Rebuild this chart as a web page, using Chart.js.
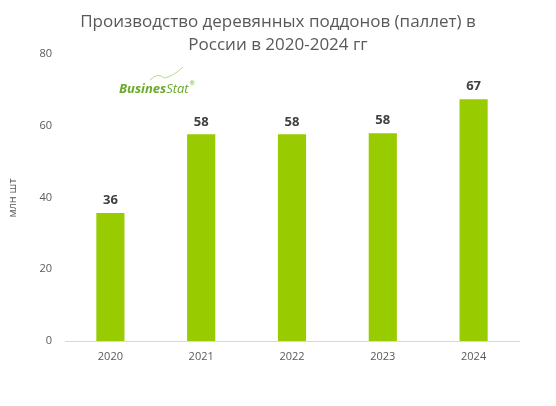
<!DOCTYPE html>
<html>
<head>
<meta charset="utf-8">
<script src="https://cdn.jsdelivr.net/npm/chart.js@4"></script>
<style>
  html, body { margin: 0; padding: 0; background: #fff; }
  #wrap { width: 556px; height: 406px; }
</style>
</head>
<body>
<div id="wrap"><canvas id="chart"></canvas></div>
<script>
const years = ['2020', '2021', '2022', '2023', '2024'];
const production = [35.7, 57.6, 57.6, 57.9, 67.4];
const yTicks = [0, 20, 40, 60, 80];

const titleLines = ['Производство деревянных поддонов (паллет) в', 'России в 2020-2024 гг'];
const yAxisLabel = 'млн шт';

// title, axis label, logo and value labels
const decorPlugin = {
    id: 'decor',
    afterDatasetsDraw(chart) {
        const ctx = chart.ctx;
        ctx.save();
        ctx.fillStyle = '#595959';
        ctx.font = '17px "Open Sans", sans-serif';
        ctx.textAlign = 'center';
        ctx.textBaseline = 'middle';
        ctx.fillText(titleLines[0], 278, 22);
        ctx.fillText(titleLines[1], 278, 45);

        ctx.font = '11px "Open Sans", sans-serif';
        ctx.translate(13, 198);
        ctx.rotate(-Math.PI / 2);
        ctx.fillText(yAxisLabel, 0, 0);
        ctx.restore();

        // value labels
        ctx.save();
        ctx.fillStyle = '#404040';
        ctx.font = 'bold 13px "Open Sans", sans-serif';
        ctx.textAlign = 'center';
        ctx.textBaseline = 'bottom';
        chart.getDatasetMeta(0).data.forEach((bar, i) => {
            ctx.fillText(Math.round(production[i]), bar.x, bar.y - 6);
        });
        ctx.restore();

        // logo
        ctx.save();
        ctx.strokeStyle = '#b5d98a';
        ctx.lineWidth = 1;
        ctx.beginPath();
        ctx.moveTo(150, 80);
        ctx.quadraticCurveTo(158, 72, 164, 78);
        ctx.quadraticCurveTo(174, 76, 183, 67);
        ctx.stroke();
        ctx.fillStyle = '#6aab2a';
        ctx.textBaseline = 'alphabetic';
        ctx.textAlign = 'left';
        ctx.font = 'italic bold 13px "Open Sans", sans-serif';
        ctx.fillText('Busines', 119, 93);
        const w = ctx.measureText('Busines').width;
        ctx.font = 'italic 13px "Open Sans", sans-serif';
        ctx.fillText('Stat', 119 + w, 93);
        const w2 = ctx.measureText('Stat').width;
        ctx.font = '6px "Open Sans", sans-serif';
        ctx.fillText('®', 120 + w + w2, 85);
        ctx.restore();
    }
};

new Chart(document.getElementById('chart'), {
    type: 'bar',
    data: {
        labels: years,
        datasets: [{
            data: production,
            backgroundColor: '#99cc00',
            barPercentage: 0.31,
            categoryPercentage: 1.0
        }]
    },
    options: {
        responsive: true,
        maintainAspectRatio: false,
        animation: false,
        layout: { padding: { top: 54, right: 37, bottom: 0, left: 0 } },
        scales: {
            x: {
                grid: { display: false, drawTicks: false },
                border: { color: '#d9d9d9', width: 1 },
                ticks: { color: '#595959', font: { size: 11, family: '"Open Sans", sans-serif' }, padding: 9 },
                afterFit: (s) => { s.height = 65; }
            },
            y: {
                min: 0,
                max: 80,
                grid: { display: false, drawTicks: false },
                border: { display: false },
                afterBuildTicks: (s) => { s.ticks = yTicks.map(v => ({ value: v })); },
                ticks: { color: '#595959', font: { size: 11, family: '"Open Sans", sans-serif' }, padding: 13 },
                afterFit: (s) => { s.width = 65; }
            }
        },
        plugins: {
            legend: { display: false },
            tooltip: { enabled: false }
        }
    },
    plugins: [decorPlugin]
});
</script>
</body>
</html>
